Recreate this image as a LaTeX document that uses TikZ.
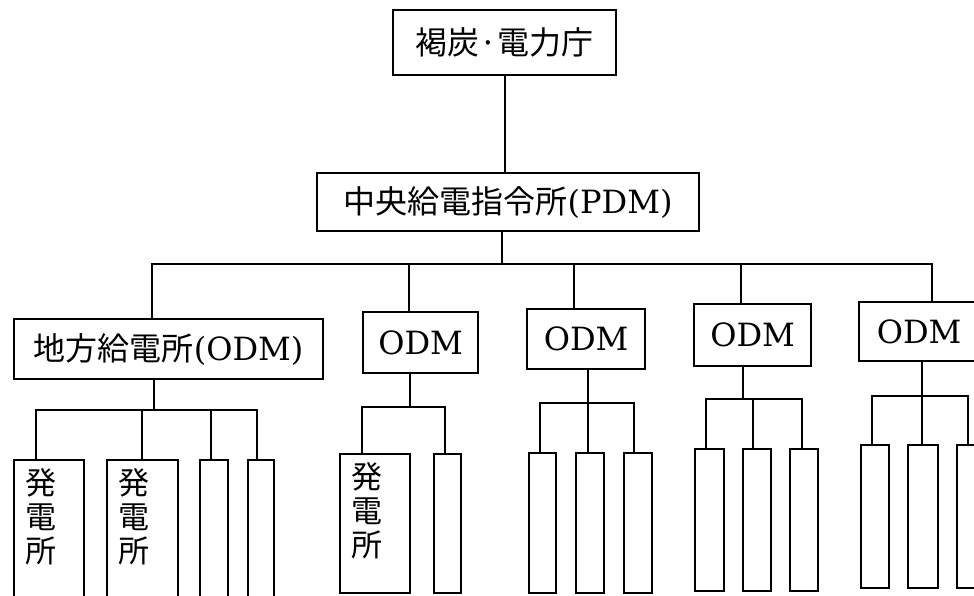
\documentclass[tikz,border=0pt]{standalone}
\usepackage{fontspec}
\setmainfont{DejaVu Serif}
\newfontfamily\cjk{Noto Sans CJK JP}
\begin{document}
\begin{tikzpicture}[x=1pt,y=-1pt,
  every node/.style={inner sep=0pt},
  box/.style={draw, line width=2.2pt, anchor=north west, font=\fontsize{32}{36}\selectfont},
  leaf/.style={draw, line width=2.2pt, anchor=north west},
  vtext/.style={anchor=north west, xshift=12pt, yshift=-9pt, align=center, font=\cjk\fontsize{31}{34}\selectfont},
  wire/.style={line width=2.2pt}]
\clip (0,0) rectangle (974,595);
% top levels
\node[box, minimum width=223, minimum height=65] (top) at (392,9) {\cjk 褐炭·電力庁};
\node[box, minimum width=382, minimum height=58] (pdm) at (316,172) {{\cjk 中央給電指令所}(PDM)};
% ODM boxes
\node[box, minimum width=309, minimum height=60] (o1) at (13,318) {{\cjk 地方給電所}(ODM)};
\node[box, minimum width=115, minimum height=61] (o2) at (362,311) {ODM};
\node[box, minimum width=118, minimum height=60] (o3) at (526,308) {ODM};
\node[box, minimum width=117, minimum height=62] (o4) at (693,303) {ODM};
\node[box, minimum width=120, minimum height=59] (o5) at (858,301) {ODM};
% leaves group 1
\node[leaf, minimum width=70, minimum height=170] (l11) at (13,459) {};
\node[leaf, minimum width=71, minimum height=170] (l12) at (106,459) {};
\node[leaf, minimum width=28, minimum height=170] (l13) at (199,459) {};
\node[leaf, minimum width=26, minimum height=170] (l14) at (247,459) {};
\node[vtext] (t11) at (l11.north west) {発\\電\\所};
\node[vtext] (t12) at (l12.north west) {発\\電\\所};
% leaves group 2
\node[leaf, minimum width=70, minimum height=139] (l21) at (339,453) {};
\node[leaf, minimum width=27, minimum height=139] (l22) at (433,453) {};
\node[vtext] (t21) at (l21.north west) {発\\電\\所};
% leaves group 3
\node[leaf, minimum width=27, minimum height=140] (l31) at (528,452) {};
\node[leaf, minimum width=28, minimum height=140] (l32) at (575,452) {};
\node[leaf, minimum width=28, minimum height=140] (l33) at (623,452) {};
% leaves group 4
\node[leaf, minimum width=29, minimum height=142] (l41) at (694,448) {};
\node[leaf, minimum width=28, minimum height=142] (l42) at (742,448) {};
\node[leaf, minimum width=28, minimum height=142] (l43) at (789,448) {};
% leaves group 5
\node[leaf, minimum width=28, minimum height=143] (l51) at (860,444) {};
\node[leaf, minimum width=30, minimum height=143] (l52) at (907,444) {};
\node[leaf, minimum width=30, minimum height=143] (l53) at (956,444) {};
% main connectors
\coordinate (bus) at (502,264);
\coordinate (bl) at (152,264);
\coordinate (b2) at (409,264);
\coordinate (b3) at (574,264);
\coordinate (b4) at (741,264);
\coordinate (br) at (932,264);
\draw[wire] (top.south) -- (top.south |- pdm.north);
\draw[wire] (pdm.south -| bus) -- (bus);
\draw[wire] (bl |- o1.north) -- (bl) -- (br) -- (br |- o5.north);
\draw[wire] (b2) -- (b2 |- o2.north);
\draw[wire] (b3) -- (b3 |- o3.north);
\draw[wire] (b4) -- (b4 |- o4.north);
% group 1
\coordinate (s1) at (154,410);
\coordinate (g1a) at (36,410);
\coordinate (g1b) at (142,410);
\coordinate (g1c) at (211,410);
\coordinate (g1d) at (257,410);
\draw[wire] (o1.south -| s1) -- (s1);
\draw[wire] (g1a |- l11.north) -- (g1a) -- (g1d) -- (g1d |- l14.north);
\draw[wire] (g1b) -- (g1b |- l12.north);
\draw[wire] (g1c) -- (g1c |- l13.north);
% group 2
\coordinate (s2) at (410,407);
\coordinate (g2a) at (362,407);
\coordinate (g2b) at (445,407);
\draw[wire] (o2.south -| s2) -- (s2);
\draw[wire] (g2a |- l21.north) -- (g2a) -- (g2b) -- (g2b |- l22.north);
% group 3
\coordinate (s3) at (588,403);
\coordinate (g3a) at (540,403);
\coordinate (g3c) at (634,403);
\draw[wire] (o3.south -| s3) -- (s3 |- l32.north);
\draw[wire] (g3a |- l31.north) -- (g3a) -- (g3c) -- (g3c |- l33.north);
% group 4
\coordinate (s4) at (743,399);
\coordinate (g4a) at (706,399);
\coordinate (g4b) at (753,399);
\coordinate (g4c) at (802,399);
\draw[wire] (o4.south -| s4) -- (s4);
\draw[wire] (g4a |- l41.north) -- (g4a) -- (g4c) -- (g4c |- l43.north);
\draw[wire] (g4b) -- (g4b |- l42.north);
% group 5
\coordinate (s5) at (922,396);
\coordinate (g5a) at (872,396);
\coordinate (g5c) at (968,396);
\draw[wire] (o5.south -| s5) -- (s5 |- l52.north);
\draw[wire] (g5a |- l51.north) -- (g5a) -- (g5c) -- (g5c |- l53.north);
\end{tikzpicture}
\end{document}
